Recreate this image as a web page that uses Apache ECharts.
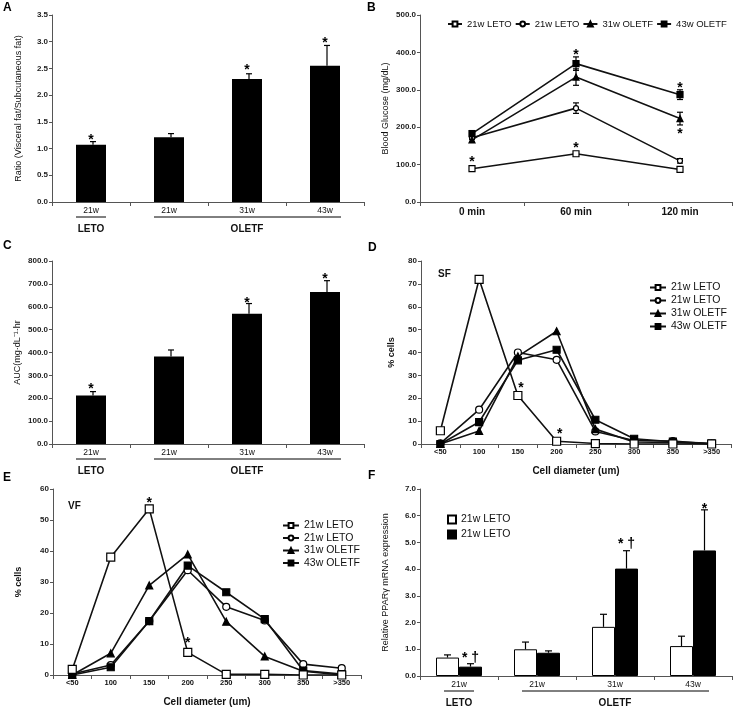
<!DOCTYPE html>
<html><head><meta charset="utf-8">
<script src="https://cdn.jsdelivr.net/npm/echarts@6/dist/echarts.min.js"></script>
<style>html,body{margin:0;padding:0;background:#fff}#c{width:734px;height:708px}</style>
</head><body><div id="c"></div>
<script>
const FONT = 'Liberation Sans, Arial, sans-serif';

// ---------- Panel A: visceral / subcutaneous ratio ----------
const barCats = ['21w', '21w', '31w', '43w'];
const ratioVals = [1.07, 1.21, 2.30, 2.55];
const ratioErr = [0.06, 0.07, 0.10, 0.38];
const ratioMarkText = ['*', '', '*', '*'];
const ratioMarkY = [1.23, 0, 2.55, 3.04];

// ---------- Panel B: blood glucose ----------
const timeCats = ['0 min', '60 min', '120 min'];
const bgLetoSq = [89, 129, 87];
const bgLetoSqErr = [4, 5, 5];
const bgLetoCi = [172, 251, 110];
const bgLetoCiErr = [5, 14, 6];
const bgOletf31 = [166, 334, 223];
const bgOletf31Err = [6, 22, 17];
const bgOletf43 = [183, 370, 287];
const bgOletf43Err = [8, 18, 13];
const bgMarkX = [0, 1, 1, 2, 2];
const bgMarkY = [118, 404, 154, 316, 192];
const bgMarkText = ['*', '*', '*', '*', '*'];

// ---------- Panel C: AUC ----------
const aucVals = [212, 383, 569, 665];
const aucErr = [17, 28, 45, 49];
const aucMarkText = ['*', '', '*', '*'];
const aucMarkY = [257, 0, 633, 740];

// ---------- Panels D/E: cell size distribution ----------
const sizeCats = ['<50', '100', '150', '200', '250', '300', '350', '>350'];
const sfLetoSq = [5.8, 72, 21.2, 1.2, 0.2, 0, 0, 0];
const sfLetoCi = [0.3, 15, 40, 36.8, 5.5, 1.5, 1.3, 0];
const sfOletf31 = [0, 5.7, 38.3, 49.3, 6.5, 0.9, 0.7, 0];
const sfOletf43 = [0, 9.6, 36.6, 41.2, 10.6, 2.3, 1.0, 0.3];
const sfMarkX = [2, 3];
const sfMarkY = [26, 6];
const sfMarkText = ['*', '*'];

const vfLetoSq = [1.8, 38, 53.6, 7.3, 0.2, 0.2, 0, 0];
const vfLetoCi = [0.3, 3.2, 17.4, 33.8, 22, 17.6, 3.5, 2.2];
const vfOletf31 = [0, 7, 28.9, 38.9, 17.2, 6, 1.2, 0];
const vfOletf43 = [0, 2.5, 17.4, 35.3, 26.7, 18, 1.4, 0.3];
const vfMarkX = [2, 3];
const vfMarkY = [56.7, 11.5];
const vfMarkText = ['*', '*'];

// ---------- Panel F: PPARγ ----------
const pparWhite = [0.69, 1.00, 1.84, 1.12];
const pparWhiteErr = [0.10, 0.27, 0.47, 0.37];
const pparBlack = [0.35, 0.87, 4.02, 4.70];
const pparBlackErr = [0.11, 0.07, 0.67, 1.52];
const pparMarkText = ['* \u2020', '', '* \u2020', '*'];
const pparMarkY = [0.80, 0, 5.1, 6.4];

const lineNames = {s1: '21w LETO', s2: '21w LETO', s3: '31w OLETF', s4: '43w OLETF', f1: '21w LETO', f2: '21w LETO'};
const groupLabels = ['LETO', 'OLETF'];

// ---------- layout ----------
const grids = [
  {left: 52, top: 15, width: 312, height: 187},   // A
  {left: 420, top: 15, width: 312, height: 187},  // B
  {left: 52, top: 261, width: 312, height: 183},  // C
  {left: 421, top: 261, width: 310, height: 183}, // D
  {left: 53, top: 489, width: 308, height: 187},  // E
  {left: 420, top: 489, width: 312, height: 187}  // F
];

const INK = '#111';
const AXIS = '#555';

function xAxisDef(i, cats, lblSize, bold, extra) {
  return Object.assign({
    type: 'category', gridIndex: i, data: cats, boundaryGap: true,
    axisLine: {lineStyle: {color: AXIS, width: 1}},
    axisTick: {show: true, length: 4, lineStyle: {color: AXIS}},
    axisLabel: {fontFamily: FONT, fontSize: lblSize, fontWeight: bold ? 'bold' : 'normal', color: INK, margin: 4},
    splitLine: {show: false}
  }, extra || {});
}
function yAxisDef(i, max, interval, dec, name, gap, nameBold) {
  return {
    type: 'value', gridIndex: i, min: 0, max: max, interval: interval,
    axisLine: {show: true, lineStyle: {color: AXIS, width: 1}},
    axisTick: {show: true, length: 3, lineStyle: {color: AXIS}},
    axisLabel: {fontFamily: FONT, fontSize: 8, fontWeight: 'bold', color: '#222', margin: 4,
      formatter: v => v.toFixed(dec)},
    splitLine: {show: false},
    name: name, nameLocation: 'middle', nameGap: gap,
    nameTextStyle: {fontFamily: FONT, fontSize: 9, fontWeight: nameBold ? 'bold' : 'normal', color: INK}
  };
}

function errSeries(i, vals, errs, twoSided, offset, cap) {
  return {
    type: 'custom', xAxisIndex: i, yAxisIndex: i, z: 3,
    data: vals.map((v, k) => [k, twoSided ? v - errs[k] : v, v + errs[k]]),
    encode: {x: 0, y: [1, 2]},
    renderItem: function (params, api) {
      const k = api.value(0);
      const lo = api.coord([k, api.value(1)]);
      const hi = api.coord([k, api.value(2)]);
      const cx = lo[0] + offset;
      const st = {stroke: '#000', lineWidth: 1.2};
      const ch = [
        {type: 'line', shape: {x1: cx, y1: lo[1], x2: cx, y2: hi[1]}, style: st},
        {type: 'line', shape: {x1: cx - cap / 2, y1: hi[1], x2: cx + cap / 2, y2: hi[1]}, style: st}
      ];
      if (twoSided) ch.push({type: 'line', shape: {x1: cx - cap / 2, y1: lo[1], x2: cx + cap / 2, y2: lo[1]}, style: st});
      return {type: 'group', children: ch};
    }
  };
}

function markSeries(i, xs, ys, texts, offset) {
  const data = [];
  xs.forEach((x, k) => { if (texts[k]) data.push([x, ys[k], texts[k]]); });
  return {
    type: 'custom', xAxisIndex: i, yAxisIndex: i, z: 5,
    data: data, encode: {x: 0, y: 1},
    renderItem: function (params, api) {
      const p = api.coord([api.value(0), api.value(1)]);
      return {type: 'text', x: p[0] + (offset || 0), y: p[1] + 4,
        style: {text: data[params.dataIndex][2], fill: '#000', font: 'bold 14px ' + FONT,
          align: 'center', verticalAlign: 'middle'}};
    }
  };
}

const symStyles = {
  s1: {symbol: 'rect', fill: '#fff'},
  s2: {symbol: 'circle', fill: '#fff'},
  s3: {symbol: 'triangle', fill: '#000'},
  s4: {symbol: 'rect', fill: '#000'}
};
function lineSeries(i, name, vals, size) {
  const s = symStyles[name];
  return {
    type: 'line', name: name, xAxisIndex: i, yAxisIndex: i, data: vals, z: 4,
    symbol: s.symbol, symbolSize: size, showSymbol: true,
    lineStyle: {color: INK, width: 1.6},
    itemStyle: {color: s.fill, borderColor: '#000', borderWidth: 1.2}
  };
}

const series = [];
// A
series.push({type: 'bar', xAxisIndex: 0, yAxisIndex: 0, data: ratioVals, barWidth: 30, itemStyle: {color: '#000'}});
series.push(errSeries(0, ratioVals, ratioErr, false, 2, 6));
series.push(markSeries(0, [0, 1, 2, 3], ratioMarkY, ratioMarkText));
// B
series.push(errSeries(1, bgLetoSq, bgLetoSqErr, true, 0, 6));
series.push(errSeries(1, bgLetoCi, bgLetoCiErr, true, 0, 6));
series.push(errSeries(1, bgOletf31, bgOletf31Err, true, 0, 6));
series.push(errSeries(1, bgOletf43, bgOletf43Err, true, 0, 6));
series.push(lineSeries(1, 's1', bgLetoSq, 6));
series.push(lineSeries(1, 's2', bgLetoCi, 5));
series.push(lineSeries(1, 's3', bgOletf31, 6));
series.push(lineSeries(1, 's4', bgOletf43, 6));
series.push(markSeries(1, bgMarkX, bgMarkY, bgMarkText));
// C
series.push({type: 'bar', xAxisIndex: 2, yAxisIndex: 2, data: aucVals, barWidth: 30, itemStyle: {color: '#000'}});
series.push(errSeries(2, aucVals, aucErr, false, 2, 6));
series.push(markSeries(2, [0, 1, 2, 3], aucMarkY, aucMarkText));
// D
series.push(lineSeries(3, 's2', sfLetoCi, 7));
series.push(lineSeries(3, 's3', sfOletf31, 7));
series.push(lineSeries(3, 's4', sfOletf43, 7));
series.push(lineSeries(3, 's1', sfLetoSq, 8));
series.push(markSeries(3, sfMarkX, sfMarkY, sfMarkText, 3));
// E
series.push(lineSeries(4, 's2', vfLetoCi, 7));
series.push(lineSeries(4, 's3', vfOletf31, 7));
series.push(lineSeries(4, 's4', vfOletf43, 7));
series.push(lineSeries(4, 's1', vfLetoSq, 8));
series.push(markSeries(4, vfMarkX, vfMarkY, vfMarkText));
// F
series.push({type: 'bar', name: 'f1', xAxisIndex: 5, yAxisIndex: 5, data: pparWhite, barWidth: 23, barGap: '0%',
  itemStyle: {color: '#fff', borderColor: '#000', borderWidth: 1}});
series.push({type: 'bar', name: 'f2', xAxisIndex: 5, yAxisIndex: 5, data: pparBlack, barWidth: 23, barGap: '0%',
  itemStyle: {color: '#000', borderColor: '#000', borderWidth: 1}});
series.push(errSeries(5, pparWhite, pparWhiteErr, false, -11.5, 7));
series.push(errSeries(5, pparBlack, pparBlackErr, false, 11.5, 7));
series.push(markSeries(5, [0, 1, 2, 3], pparMarkY, pparMarkText, 11.5));

const legendText = {fontFamily: FONT, fontSize: 10.5, color: INK};
const option = {
  animation: false,
  backgroundColor: '#fff',
  grid: grids,
  xAxis: [
    xAxisDef(0, barCats, 8.5, false),
    xAxisDef(1, timeCats, 10, true, {axisLabel: {fontFamily: FONT, fontSize: 10, fontWeight: 'bold', color: INK, margin: 5}}),
    xAxisDef(2, barCats, 8.5, false),
    xAxisDef(3, sizeCats, 7.5, true, {name: 'Cell diameter (um)', nameLocation: 'middle', nameGap: 22,
      nameTextStyle: {fontFamily: FONT, fontSize: 10, fontWeight: 'bold', color: INK}}),
    xAxisDef(4, sizeCats, 7.5, true, {name: 'Cell diameter (um)', nameLocation: 'middle', nameGap: 22,
      nameTextStyle: {fontFamily: FONT, fontSize: 10, fontWeight: 'bold', color: INK}}),
    xAxisDef(5, barCats, 8.5, false)
  ],
  yAxis: [
    yAxisDef(0, 3.5, 0.5, 1, 'Ratio (Visceral fat/Subcutaneous fat)', 29, false),
    yAxisDef(1, 500, 100, 1, 'Blood Glucose (mg/dL)', 30, false),
    yAxisDef(2, 800, 100, 1, 'AUC(mg\u00b7dL\u207b\u00b9\u00b7hr', 30, false),
    yAxisDef(3, 80, 10, 0, '% cells', 25, true),
    yAxisDef(4, 60, 10, 0, '% cells', 30, true),
    yAxisDef(5, 7, 1, 1, 'Relative PPAR\u03b3 mRNA expression', 30, false)
  ],
  legend: [
    {left: 447, top: 19, width: 285, padding: 0, orient: 'horizontal', itemGap: 3, itemWidth: 14, itemHeight: 6,
      data: ['s1', 's2', 's3', 's4'], formatter: n => lineNames[n],
      textStyle: {fontFamily: FONT, fontSize: 9.5, color: INK}, selectedMode: false},
    {left: 644, top: 277, orient: 'vertical', itemGap: 2, itemWidth: 16, itemHeight: 6,
      data: ['s1', 's2', 's3', 's4'], formatter: n => lineNames[n], textStyle: legendText, selectedMode: false},
    {left: 277, top: 515, orient: 'vertical', itemGap: 1.5, itemWidth: 16, itemHeight: 6,
      data: ['s1', 's2', 's3', 's4'], formatter: n => lineNames[n], textStyle: legendText, selectedMode: false},
    {left: 442, top: 509, orient: 'vertical', itemGap: 4, itemWidth: 8, itemHeight: 8, icon: 'rect',
      data: ['f1', 'f2'], formatter: n => lineNames[n], textStyle: legendText, selectedMode: false}
  ],
  series: series
};

const chart = echarts.init(document.getElementById('c'), null, {renderer: 'canvas'});
chart.setOption(option);

// group labels & underlines under bar panels, positioned from the category axis
const graphics = [];
[0, 2, 5].forEach(function (gi) {
  const g = grids[gi];
  const base = g.top + g.height;
  const px = k => chart.convertToPixel({xAxisIndex: gi}, k);
  const half = 15;
  const lineY = base + 15;
  const textY = base + 27;
  graphics.push({type: 'line', shape: {x1: px(0) - half, y1: lineY, x2: px(0) + half, y2: lineY},
    style: {stroke: '#000', lineWidth: 1}});
  graphics.push({type: 'line', shape: {x1: px(1) - half, y1: lineY, x2: px(3) + half + 1, y2: lineY},
    style: {stroke: '#000', lineWidth: 1}});
  graphics.push({type: 'text', x: px(0), y: textY,
    style: {text: groupLabels[0], font: 'bold 10px ' + FONT, fill: INK, align: 'center', verticalAlign: 'middle'}});
  graphics.push({type: 'text', x: px(2), y: textY,
    style: {text: groupLabels[1], font: 'bold 10px ' + FONT, fill: INK, align: 'center', verticalAlign: 'middle'}});
});
const letters = [['A', 3, 2], ['B', 367, 2], ['C', 3, 240], ['D', 368, 242], ['E', 3, 472], ['F', 368, 470]];
letters.forEach(function (l) {
  graphics.push({type: 'text', x: l[1], y: l[2], style: {text: l[0], font: 'bold 12px ' + FONT, fill: '#000'}});
});
graphics.push({type: 'text', x: 438, y: 269, style: {text: 'SF', font: 'bold 10px ' + FONT, fill: INK}});
graphics.push({type: 'text', x: 68, y: 501, style: {text: 'VF', font: 'bold 10px ' + FONT, fill: INK}});
chart.setOption({graphic: graphics});
</script>
</body></html>
